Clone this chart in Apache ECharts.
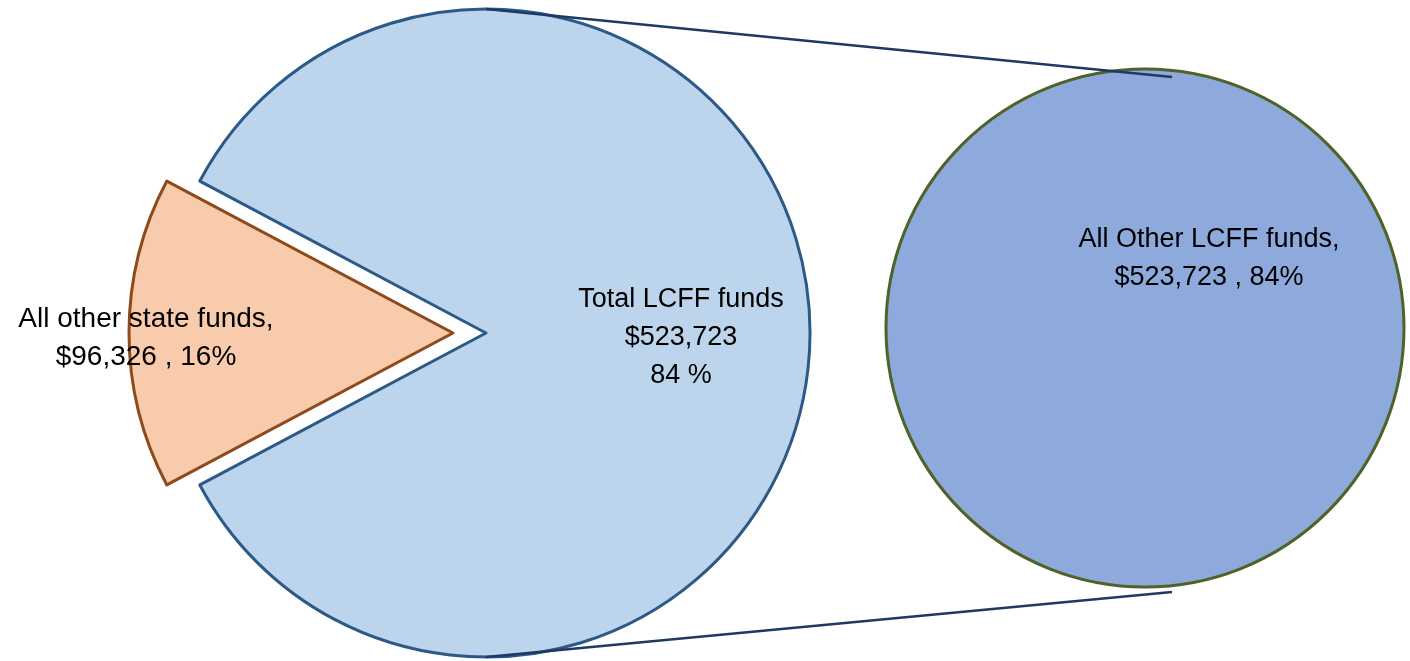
<!DOCTYPE html>
<html>
<head>
<meta charset="utf-8">
<script src="https://cdn.jsdelivr.net/npm/echarts@6/dist/echarts.min.js"></script>
<style>
  html, body { margin: 0; padding: 0; background: #fff; }
  #chart { width: 1410px; height: 661px; }
</style>
</head>
<body>
<div id="chart"></div>
<script>
// data
const mainNames = ['All other state funds', 'Total LCFF funds'];
const mainValues = [96326, 523723];
const detailNames = ['All Other LCFF funds'];
const detailValues = [523723];

// layout
const pie1 = { cx: 486, cy: 333, r: 324 };
const pie2 = { cx: 1145, cy: 328, r: 259 };
const font = 'Liberation Sans';

const total = mainValues.reduce((a, b) => a + b, 0);
const smallHalfAngle = mainValues[0] / total * 180;

const money = v => '$' + v.toLocaleString('en-US');
const pct = v => Math.round(v / total * 100);

const chart = echarts.init(document.getElementById('chart'));

// the exploded slice is drawn in its "select" state, so the label must be set there too
const smallLabel = {
    position: 'inside',
    offset: [-145, 5],
    fontSize: 28,
    formatter: p => p.name + ',\n' + money(p.value) + ' , ' + pct(p.value) + '%'
};

const option = {
    animation: false,
    backgroundColor: '#fff',
    series: [
        {
            type: 'pie',
            center: [pie1.cx, pie1.cy],
            radius: pie1.r,
            startAngle: 180 + smallHalfAngle,
            clockwise: true,
            selectedMode: 'single',
            selectedOffset: 33,
            silent: true,
            labelLine: { show: false },
            emphasis: { disabled: true },
            data: [
                {
                    name: mainNames[0],
                    value: mainValues[0],
                    selected: true,
                    itemStyle: { color: '#F8CBAD', borderColor: '#8E4A1A', borderWidth: 3 },
                    label: smallLabel,
                    select: { label: smallLabel }
                },
                {
                    name: mainNames[1],
                    value: mainValues[1],
                    itemStyle: { color: '#BDD5EC', borderColor: '#2C5A88', borderWidth: 3 },
                    label: {
                        position: 'inside',
                        offset: [30, 5],
                        formatter: p => p.name + '\n' + money(p.value) + '\n' + pct(p.value) + ' %'
                    }
                }
            ],
            label: {
                show: true,
                color: '#000',
                fontFamily: font,
                fontSize: 27,
                lineHeight: 38,
                align: 'center',
                verticalAlign: 'middle'
            }
        },
        {
            type: 'pie',
            center: [pie2.cx, pie2.cy],
            radius: pie2.r,
            silent: true,
            labelLine: { show: false },
            emphasis: { disabled: true },
            data: detailNames.map((n, i) => ({
                name: n,
                value: detailValues[i],
                itemStyle: { color: '#8EA9DB', borderColor: '#4F6228', borderWidth: 3 }
            })),
            label: {
                show: true,
                position: 'center',
                offset: [64, -69],
                color: '#000',
                fontFamily: font,
                fontSize: 27,
                lineHeight: 38,
                align: 'center',
                formatter: p => p.name + ',\n' + money(p.value) + ' , ' + pct(p.value) + '%'
            }
        }
    ],
    graphic: [
        {
            type: 'line',
            z: 100,
            shape: { x1: pie1.cx, y1: pie1.cy - pie1.r, x2: pie2.cx + 27, y2: pie2.cy - pie2.r + 8 },
            style: { stroke: '#1F3864', lineWidth: 2.5 }
        },
        {
            type: 'line',
            z: 100,
            shape: { x1: pie1.cx, y1: pie1.cy + pie1.r, x2: pie2.cx + 27, y2: pie2.cy + pie2.r + 5 },
            style: { stroke: '#1F3864', lineWidth: 2.5 }
        }
    ]
};

chart.setOption(option);
</script>
</body>
</html>
